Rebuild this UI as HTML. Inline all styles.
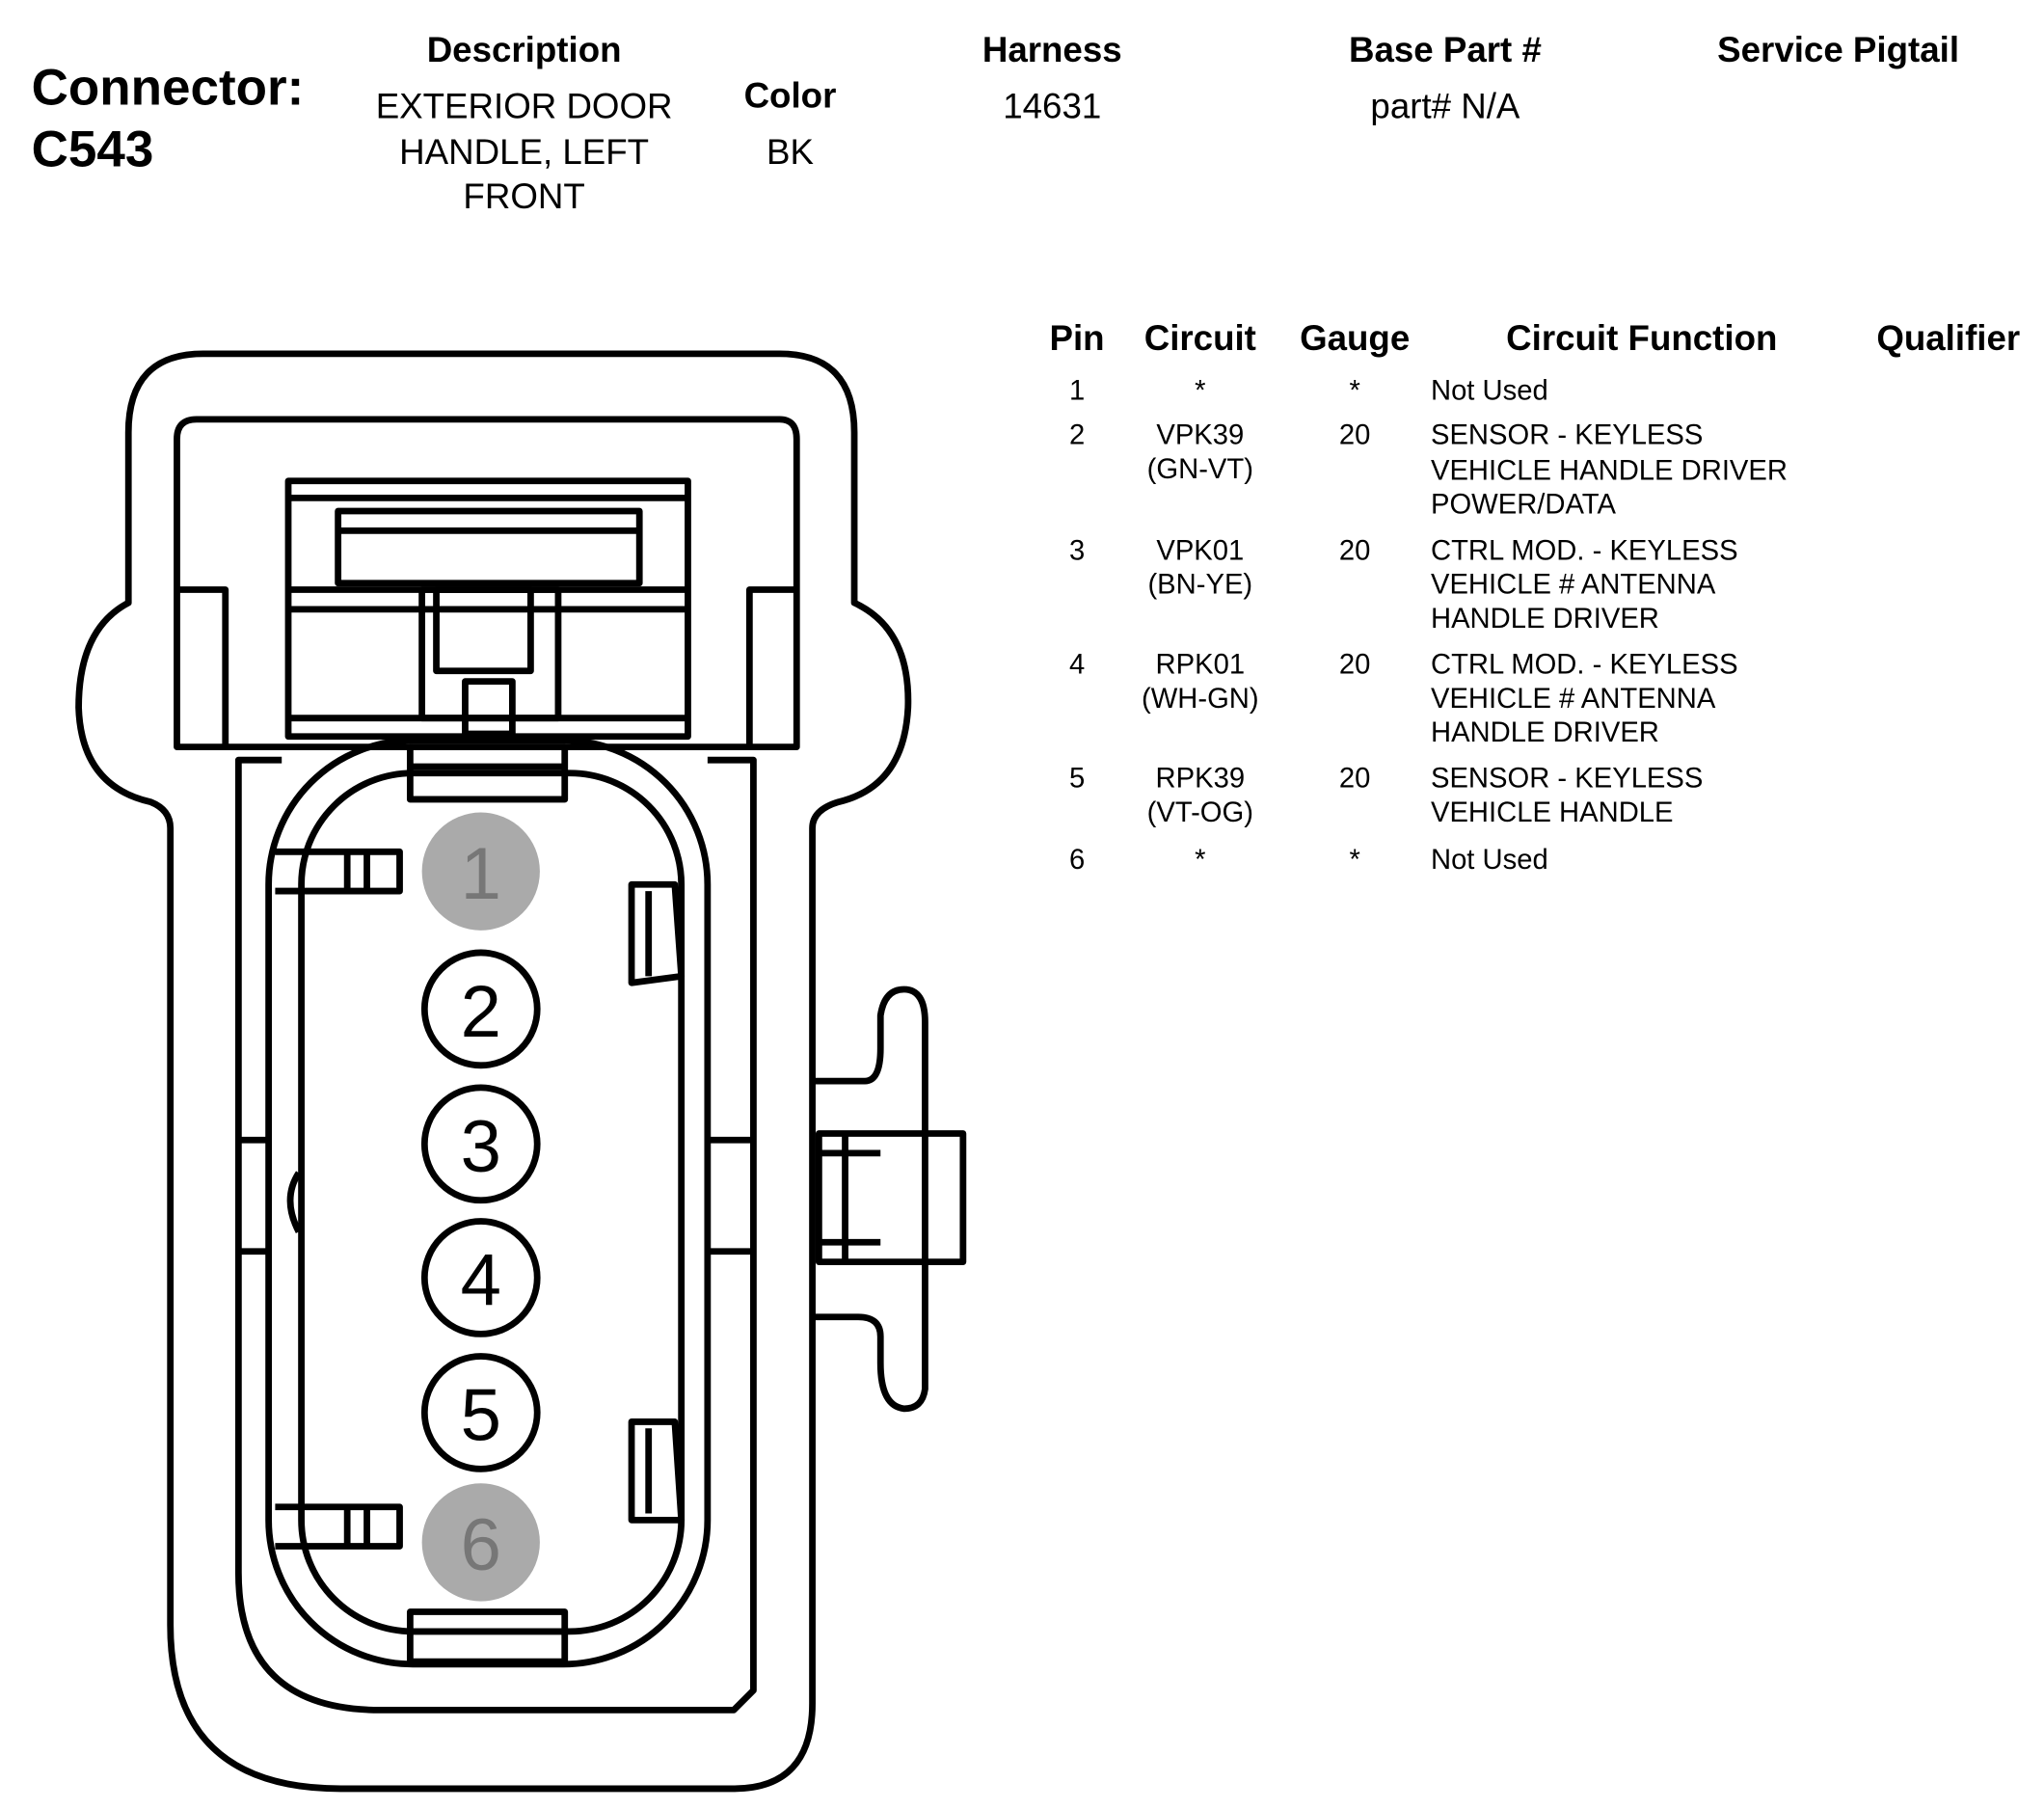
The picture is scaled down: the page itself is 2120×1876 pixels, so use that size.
<!DOCTYPE html>
<html><head><meta charset="utf-8"><style>
html,body{margin:0;padding:0;background:#fff;}
svg{display:block;}
text{font-family:"Liberation Sans",Arial,sans-serif;fill:#000;}
.b{font-weight:bold;}
</style></head><body>
<svg width="2120" height="1876" viewBox="0 0 1560 1380.5" xmlns="http://www.w3.org/2000/svg">
<g font-size="27">
<text x="24" y="80" font-size="39" class="b">Connector:</text>
<text x="24" y="127" font-size="39" class="b">C543</text>
<g text-anchor="middle">
<text x="400" y="47" class="b">Description</text>
<text x="400" y="90">EXTERIOR DOOR</text>
<text x="400" y="125">HANDLE, LEFT</text>
<text x="400" y="159">FRONT</text>
<text x="603" y="82" class="b">Color</text>
<text x="603" y="125">BK</text>
<text x="803" y="47" class="b">Harness</text>
<text x="803" y="90">14631</text>
<text x="1103" y="47" class="b">Base Part #</text>
<text x="1103" y="90">part# N/A</text>
<text x="1403" y="47" class="b">Service Pigtail</text>
<text x="822" y="267" class="b">Pin</text>
<text x="916" y="267" class="b">Circuit</text>
<text x="1034" y="267" class="b">Gauge</text>
<text x="1253" y="267" class="b">Circuit Function</text>
<text x="1487" y="267" class="b">Qualifier</text>
</g>
</g>
<g font-size="21.5">
<g text-anchor="middle">
<text x="822" y="305">1</text><text x="916" y="305">*</text><text x="1034" y="305">*</text>
<text x="822" y="339">2</text><text x="916" y="339">VPK39</text><text x="916" y="365">(GN-VT)</text><text x="1034" y="339">20</text>
<text x="822" y="427">3</text><text x="916" y="427">VPK01</text><text x="916" y="453">(BN-YE)</text><text x="1034" y="427">20</text>
<text x="822" y="514">4</text><text x="916" y="514">RPK01</text><text x="916" y="540">(WH-GN)</text><text x="1034" y="514">20</text>
<text x="822" y="601">5</text><text x="916" y="601">RPK39</text><text x="916" y="627">(VT-OG)</text><text x="1034" y="601">20</text>
<text x="822" y="663">6</text><text x="916" y="663">*</text><text x="1034" y="663">*</text>
</g>
<text x="1092" y="305">Not Used</text>
<text x="1092" y="339">SENSOR - KEYLESS</text><text x="1092" y="366">VEHICLE HANDLE DRIVER</text><text x="1092" y="392">POWER/DATA</text>
<text x="1092" y="427">CTRL MOD. - KEYLESS</text><text x="1092" y="453">VEHICLE # ANTENNA</text><text x="1092" y="479">HANDLE DRIVER</text>
<text x="1092" y="514">CTRL MOD. - KEYLESS</text><text x="1092" y="540">VEHICLE # ANTENNA</text><text x="1092" y="566">HANDLE DRIVER</text>
<text x="1092" y="601">SENSOR - KEYLESS</text><text x="1092" y="627">VEHICLE HANDLE</text>
<text x="1092" y="663">Not Used</text>
</g>
<g fill="none" stroke="#000" stroke-width="5" stroke-linejoin="round">
<path d="M155 270 L595 270 Q652 270 652 330 L652 460 Q695 480 693 540 Q690 600 640 612 Q620 618 620 632 L620 1300 Q620 1365 560 1365 L260 1365 Q130 1365 130 1240 L130 632 Q130 618 115 612 Q62 600 60 540 Q60 480 98 460 L98 330 Q98 270 155 270 Z"/>
<path d="M150 320 L595 320 Q608 320 608 335 L608 570 L135 570 L135 335 Q135 320 150 320 Z"/>
<path d="M135 450 L172 450 L172 570 M608 450 L572 450 L572 570"/>
<rect x="220" y="367" width="305" height="195"/>
<line x1="220" y1="380" x2="525" y2="380"/>
<rect x="258" y="390" width="230" height="55"/>
<line x1="258" y1="405" x2="488" y2="405"/>
<line x1="220" y1="450" x2="525" y2="450"/>
<line x1="220" y1="465" x2="525" y2="465"/>
<line x1="220" y1="548" x2="525" y2="548"/>
<rect x="322" y="450" width="104" height="98"/>
<rect x="333" y="450" width="72" height="62"/>
<rect x="355" y="520" width="36" height="40"/>
<path d="M215 580 L182 580 L182 1200 Q182 1305 290 1305 L560 1305 L575 1290 L575 580 L540 580"/>
<rect x="205" y="565" width="335" height="705" rx="110"/>
<rect x="230" y="590" width="290" height="655" rx="85"/>
<rect x="313" y="570" width="118" height="40"/>
<line x1="313" y1="585" x2="431" y2="585"/>
<rect x="313" y="1230" width="118" height="38"/>
<line x1="313" y1="1245" x2="431" y2="1245"/>
<path d="M210 650 L305 650 L305 680 L210 680 M265 650 L265 680 M280 650 L280 680"/>
<path d="M210 1150 L305 1150 L305 1180 L210 1180 M265 1150 L265 1180 M280 1150 L280 1180"/>
<path d="M482 675 L515 675 L520 745 L482 750 Z M495 680 L495 745"/>
<path d="M482 1085 L515 1085 L520 1160 L482 1160 Z M495 1090 L495 1155"/>
<path d="M182 870 L205 870 M182 955 L205 955 M540 870 L575 870 M540 955 L575 955"/>
<path d="M228 895 Q215 915 228 940"/>
<path d="M620 825 L660 825 Q672 825 672 800 L672 775 Q675 755 690 755 Q706 755 706 780 L706 1060 Q704 1075 690 1075 Q672 1073 672 1040 L672 1020 Q672 1005 655 1005 L620 1005"/>
<rect x="625" y="865" width="110" height="98"/>
<line x1="645" y1="865" x2="645" y2="963"/>
<line x1="625" y1="880" x2="672" y2="880"/>
<line x1="625" y1="948" x2="672" y2="948"/>
</g>
<g>
<circle cx="367" cy="665" r="45" fill="#aaa"/>
<circle cx="367" cy="1177" r="45" fill="#aaa"/>
<g fill="#fff" stroke="#000" stroke-width="5">
<circle cx="367" cy="770" r="43"/><circle cx="367" cy="873" r="43"/>
<circle cx="367" cy="975" r="43"/><circle cx="367" cy="1078" r="43"/>
</g>
<g font-size="56" text-anchor="middle">
<text x="367" y="686" style="fill:#777">1</text>
<text x="367" y="791">2</text><text x="367" y="894">3</text>
<text x="367" y="996">4</text><text x="367" y="1099">5</text>
<text x="367" y="1198" style="fill:#777">6</text>
</g>
</g>
</svg>
</body></html>
